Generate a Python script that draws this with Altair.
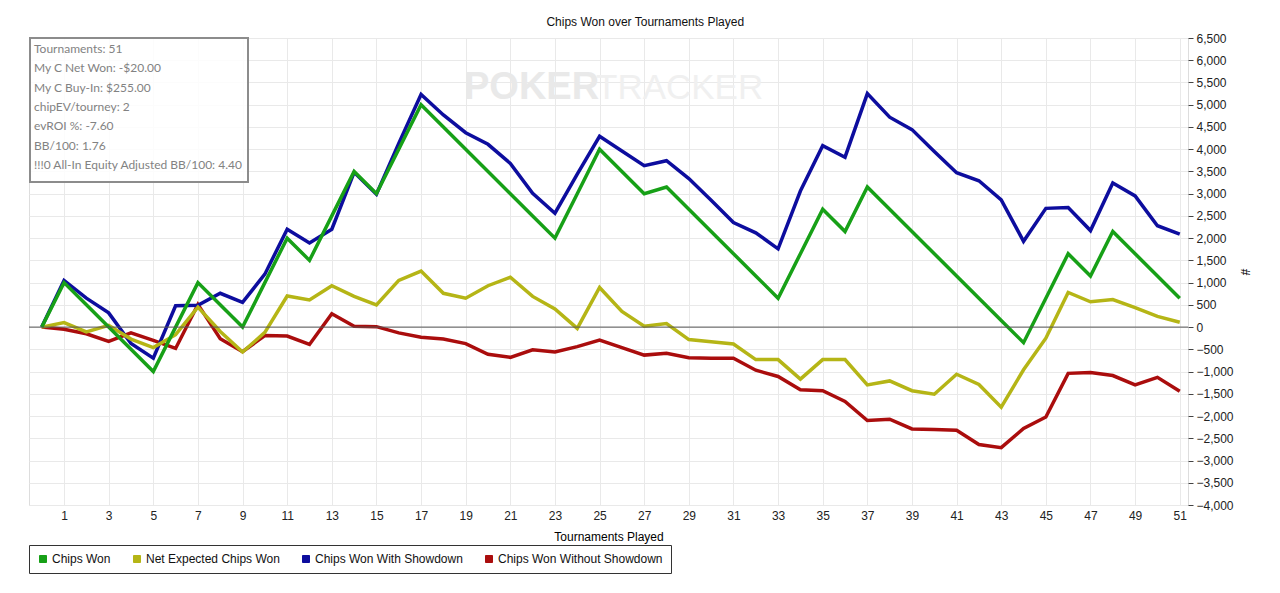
import altair as alt
import pandas as pd

# tournament index 0..51
tournaments = list(range(52))

chips_won = [0, 1000, 500, 0, -500, -1000, 0, 1000, 500, 0,
             1000, 2000, 1500, 2500, 3500, 3000, 4000, 5000, 4500, 4000,
             3500, 3000, 2500, 2000, 3000, 4000, 3500, 3000, 3150, 2650,
             2150, 1650, 1150, 650, 1650, 2650, 2150, 3150, 2650, 2150,
             1650, 1150, 650, 150, -350, 650, 1650, 1150, 2150, 1650,
             1150, 650]

net_expected = [0, 100, -110, 40, -270, -460, -170, 450, -100, -560,
                -120, 700, 610, 930, 690, 500, 1050, 1260, 760, 650,
                930, 1120, 690, 410, -30, 890, 350, 20, 80, -280,
                -330, -380, -730, -730, -1170, -730, -730, -1300, -1210, -1430,
                -1510, -1060, -1290, -1800, -960, -250, 780, 570, 620, 440,
                240, 110]

with_showdown = [0, 1050, 650, 320, -370, -700, 480, 490, 760, 555,
                 1190, 2200, 1890, 2200, 3480, 2990, 4130, 5230, 4770, 4370,
                 4110, 3680, 3010, 2560, 3440, 4290, 3960, 3630, 3740, 3340,
                 2850, 2350, 2120, 1760, 3060, 4080, 3820, 5250, 4720, 4440,
                 3950, 3470, 3290, 2860, 1930, 2670, 2690, 2170, 3240, 2950,
                 2280, 2090]

without_showdown = [0, -50, -150, -320, -130, -300, -480, 510, -260, -555,
                    -190, -200, -390, 300, 20, 10, -130, -230, -270, -370,
                    -610, -680, -510, -560, -440, -290, -460, -630, -590, -690,
                    -700, -700, -970, -1110, -1410, -1430, -1670, -2100, -2070, -2290,
                    -2300, -2320, -2640, -2710, -2280, -2020, -1040, -1020, -1090, -1300,
                    -1130, -1440]

series_names = ['Chips Won', 'Net Expected Chips Won',
                'Chips Won With Showdown', 'Chips Won Without Showdown']
series_colors = ['#17a017', '#b5b516', '#0d0d9e', '#aa0d0d']

info_lines = ['Tournaments: 51', 'My C Net Won: -$20.00', 'My C Buy-In: $255.00',
              'chipEV/tourney: 2', 'evROI %: -7.60', 'BB/100: 1.76',
              '!!!0 All-In Equity Adjusted BB/100: 4.40']

y_ticks = list(range(-4000, 6501, 500))
x_ticks = list(range(1, 52, 2))

rows = []
for name, values in zip(series_names, [chips_won, net_expected, with_showdown, without_showdown]):
    for t, v in zip(tournaments, values):
        rows.append({'tournament': t, 'chips': v, 'series': name})
df = pd.DataFrame(rows)

FONT = 'Liberation Sans, Arial, sans-serif'

x_enc = alt.X('tournament:Q',
              scale=alt.Scale(domain=[-0.57, 51.37], nice=False, zero=False),
              axis=alt.Axis(values=x_ticks, title='Tournaments Played', ticks=False, tickSize=0,
                            labelPadding=5, titlePadding=10, labelFontSize=12, titleFontSize=12,
                            titleFontWeight='normal', labelFont=FONT, titleFont=FONT,
                            gridColor='#e9e9e9', domain=False, labelColor='#222',
                            labelOverlap=False))
y_enc = alt.Y('chips:Q',
              scale=alt.Scale(domain=[-4000, 6500], nice=False),
              axis=alt.Axis(orient='right', values=y_ticks, format=',.0f', title='#',
                            tickSize=5, tickColor='#444', labelPadding=3, titlePadding=4,
                            labelFontSize=12, titleFontSize=12, titleFontWeight='normal',
                            labelFont=FONT, titleFont=FONT, gridColor='#e9e9e9',
                            domain=False, labelColor='#222', labelOverlap=False))

color_scale = alt.Scale(domain=series_names, range=series_colors)

base = alt.Chart(df)

# draw order: red under blue under yellow under green
lines = []
for name in ['Chips Won Without Showdown', 'Chips Won With Showdown',
             'Net Expected Chips Won', 'Chips Won']:
    lines.append(
        base.transform_filter(alt.datum.series == name).mark_line(strokeWidth=3.5, strokeJoin='miter').encode(
            x=x_enc, y=y_enc,
            color=alt.Color('series:N', scale=color_scale, legend=None),
        )
    )

# invisible squares just to carry the legend
legend_layer = base.transform_filter(alt.datum.tournament == 0).mark_square(size=0, filled=True).encode(
    x=x_enc, y=y_enc,
    fill=alt.Fill('series:N', scale=alt.Scale(domain=series_names, range=series_colors),
                  legend=alt.Legend(title=None, orient='none', legendX=0, legendY=507,
                                    direction='horizontal', columns=4, symbolType='square',
                                    symbolSize=49, symbolStrokeColor='#222', symbolStrokeWidth=1,
                                    symbolOpacity=1, labelFont=FONT, labelFontSize=12,
                                    labelColor='#111', labelOffset=3, columnPadding=20,
                                    padding=8, strokeColor='#333', fillColor='white',
                                    labelLimit=0))
)

zero_rule = alt.Chart(pd.DataFrame({'chips': [0]})).mark_rule(color='#555', strokeWidth=1).encode(
    y=y_enc
)

one = pd.DataFrame({'k': [0]})
watermark_a = alt.Chart(one).mark_text(
    text='POKER', font=FONT, fontSize=38, fontWeight='bold', color='#e9e9e9',
    align='left', baseline='middle'
).encode(x=alt.value(435), y=alt.value(50))
watermark_b = alt.Chart(one).mark_text(
    text='TRACKER', font=FONT, fontSize=35, fontWeight='normal', color='#f0f0f0',
    align='left', baseline='middle'
).encode(x=alt.value(567), y=alt.value(50))

info_box = alt.Chart(one).mark_rect(fill='white', fillOpacity=0.85, stroke='#8c8c8c', strokeWidth=2).encode(
    x=alt.value(1), x2=alt.value(219), y=alt.value(0), y2=alt.value(144)
)
info_text = alt.Chart(one).mark_text(
    align='left', baseline='middle', font='Lato, Open Sans, sans-serif', fontSize=12,
    color='#828282', lineHeight=19.3
).encode(x=alt.value(5), y=alt.value(11), text=alt.value(info_lines))

chart = alt.layer(
    watermark_a, watermark_b, legend_layer, *lines, zero_rule, info_box, info_text
).properties(
    width=1159, height=467,
    padding={'left': 20, 'top': 8, 'right': 5, 'bottom': 5},
    title=alt.TitleParams('Chips Won over Tournaments Played', font=FONT, fontSize=12,
                          fontWeight='normal', anchor='middle', frame='bounds', offset=3,
                          dx=6, color='#111')
).configure_view(
    stroke='#555', strokeWidth=1.5
).configure(background='white')

chart.save('out.html', embed_options={'renderer': 'svg', 'actions': False})
